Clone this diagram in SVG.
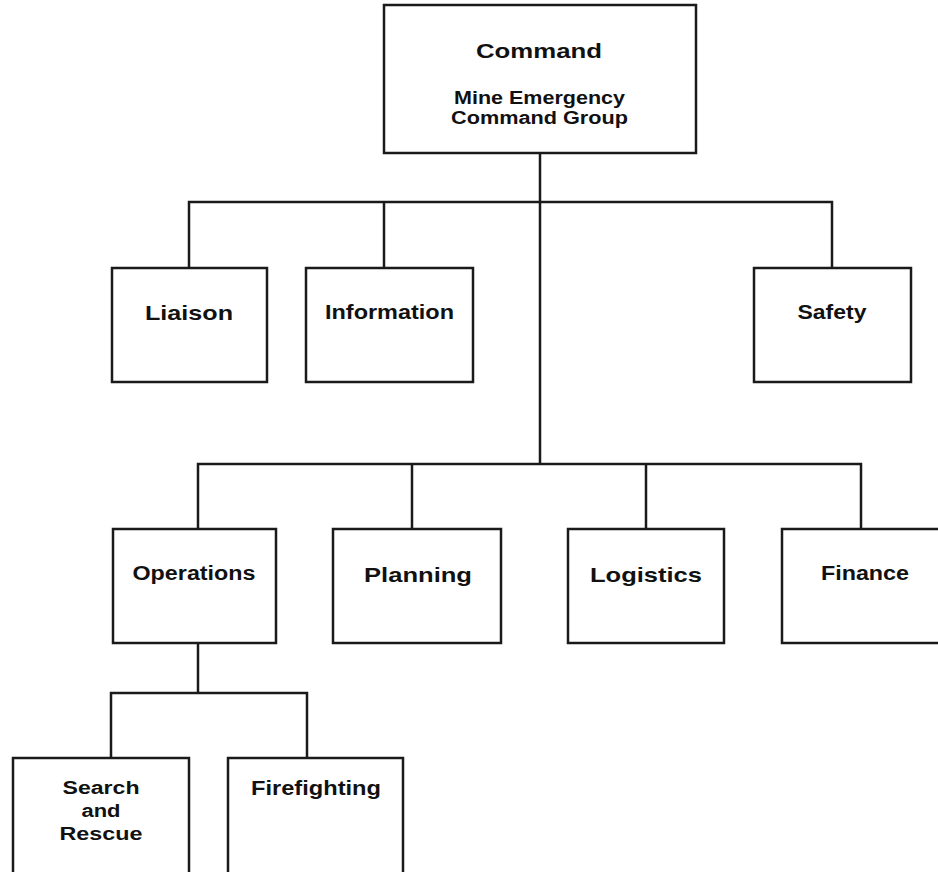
<svg xmlns="http://www.w3.org/2000/svg" width="938" height="872" viewBox="0 0 938 872">
<style>
.box{fill:#fff;stroke:#1a1a1a;stroke-width:2.5}
.ln{fill:none;stroke:#1a1a1a;stroke-width:2.5}
text{font-family:"Liberation Sans",Arial,sans-serif;font-weight:bold;fill:#111;text-anchor:middle}
.l{font-size:21px}
.m{font-size:19.5px}
.s{font-size:17.5px}
</style>
<rect width="938" height="872" fill="#fff"/>
<g id="connectors" class="ln">
<path d="M540 153 V464"/>
<path d="M189 268 V202 H832 V268"/>
<path d="M384 202 V268"/>
<path d="M198 529 V464 H861 V529"/>
<path d="M412 464 V529"/>
<path d="M646 464 V529"/>
<path d="M198 643 V693"/>
<path d="M111 758 V693 H307 V758"/>
</g>
<g id="command">
<rect class="box" x="384" y="5" width="312" height="148"/>
<text class="l" x="539" y="58" textLength="126" lengthAdjust="spacingAndGlyphs">Command</text>
<text class="s" x="539.5" y="104" textLength="171" lengthAdjust="spacingAndGlyphs">Mine Emergency</text>
<text class="s" x="539.5" y="124" textLength="177" lengthAdjust="spacingAndGlyphs">Command Group</text>
</g>
<g id="liaison">
<rect class="box" x="112" y="268" width="155" height="114"/>
<text class="l" x="189" y="320" textLength="88" lengthAdjust="spacingAndGlyphs">Liaison</text>
</g>
<g id="information">
<rect class="box" x="306" y="268" width="167" height="114"/>
<text class="m" x="389.5" y="319" textLength="129" lengthAdjust="spacingAndGlyphs">Information</text>
</g>
<g id="safety">
<rect class="box" x="754" y="268" width="157" height="114"/>
<text class="m" x="832" y="319" textLength="69" lengthAdjust="spacingAndGlyphs">Safety</text>
</g>
<g id="operations">
<rect class="box" x="113" y="529" width="163" height="114"/>
<text class="m" x="194" y="580" textLength="123" lengthAdjust="spacingAndGlyphs">Operations</text>
</g>
<g id="planning">
<rect class="box" x="333" y="529" width="168" height="114"/>
<text class="l" x="418" y="582" textLength="108" lengthAdjust="spacingAndGlyphs">Planning</text>
</g>
<g id="logistics">
<rect class="box" x="568" y="529" width="156" height="114"/>
<text class="l" x="646" y="582" textLength="112" lengthAdjust="spacingAndGlyphs">Logistics</text>
</g>
<g id="finance">
<rect class="box" x="782" y="529" width="170" height="114"/>
<text class="m" x="865" y="580" textLength="88" lengthAdjust="spacingAndGlyphs">Finance</text>
</g>
<g id="search-rescue">
<rect class="box" x="13" y="758" width="176" height="130"/>
<text class="s" x="101" y="794" textLength="77" lengthAdjust="spacingAndGlyphs">Search</text>
<text class="s" x="101" y="817" textLength="39" lengthAdjust="spacingAndGlyphs">and</text>
<text class="s" x="101" y="840" textLength="83" lengthAdjust="spacingAndGlyphs">Rescue</text>
</g>
<g id="firefighting">
<rect class="box" x="228" y="758" width="175" height="130"/>
<text class="m" x="316" y="795" textLength="130" lengthAdjust="spacingAndGlyphs">Firefighting</text>
</g>
</svg>
